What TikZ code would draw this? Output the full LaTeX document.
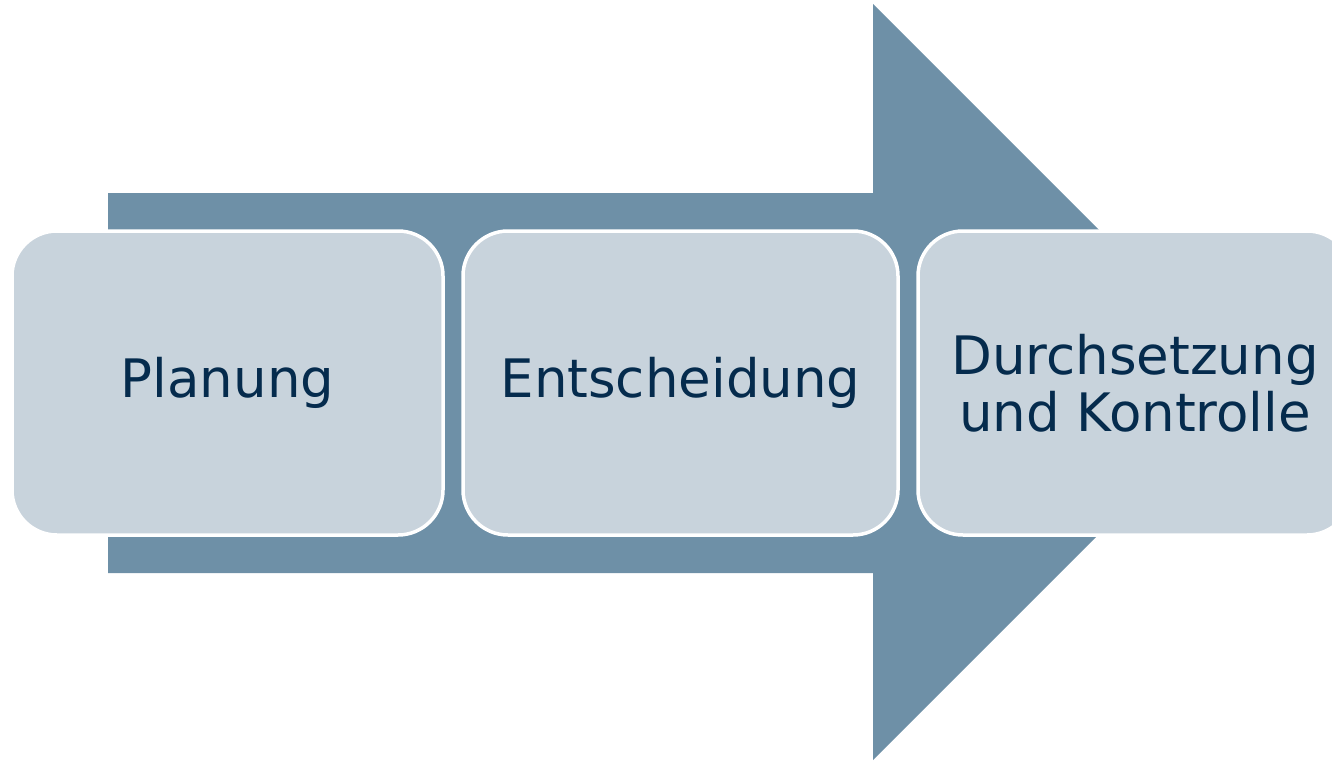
\documentclass[tikz,border=0pt]{standalone}
\usepackage{fontspec}
\setmainfont{DejaVu Sans}
\definecolor{arrowc}{HTML}{6E90A7}
\definecolor{boxc}{HTML}{C8D3DC}
\definecolor{textc}{HTML}{052B4D}
\begin{document}
\begin{tikzpicture}[x=1pt,y=-1pt,
  stage/.style={draw=white, line width=3.5pt, fill=boxc, rounded corners=45pt,
    minimum height=304pt, text=textc, align=center,
    font=\fontsize{53}{57}\selectfont}]
\useasboundingbox (0,0) rectangle (1332,760);
\clip (0,0) rectangle (1332,760);
\fill[arrowc] (108,193) -- (873,193) -- (873,4) -- (1251,382) -- (873,760) -- (873,573) -- (108,573) -- cycle;
\node[stage, minimum width=431pt] (p) at (227.5,383) {\raisebox{-8pt}{Planung}};
\node[stage, minimum width=435pt] (e) at (680.5,383) {\raisebox{-4pt}{Entscheidung}};
\node[stage, minimum width=434pt] (d) at (1135,383) {Durchsetzung\\und Kontrolle};
\end{tikzpicture}
\end{document}
